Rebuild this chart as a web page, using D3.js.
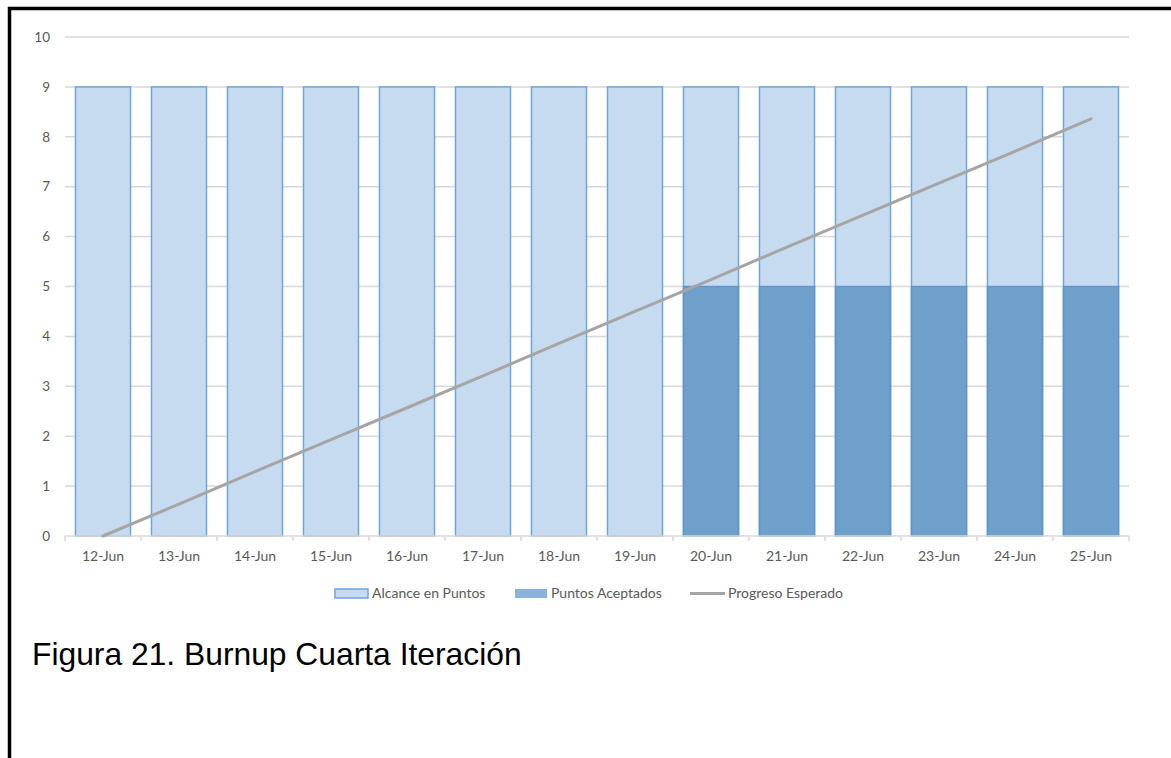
<!DOCTYPE html>
<html>
<head>
<meta charset="utf-8">
<script src="https://cdn.jsdelivr.net/npm/d3@7"></script>
<style>
  html, body { margin: 0; padding: 0; background: #fff; }
  svg { display: block; }
</style>
</head>
<body>
<svg id="chart" width="1171" height="758"></svg>
<script>
// Burnup chart data
const days = ["12-Jun","13-Jun","14-Jun","15-Jun","16-Jun","17-Jun","18-Jun",
              "19-Jun","20-Jun","21-Jun","22-Jun","23-Jun","24-Jun","25-Jun"];
const alcance = [9,9,9,9,9,9,9,9,9,9,9,9,9,9];
const aceptados = [0,0,0,0,0,0,0,0,5,5,5,5,5,5];
const esperado = [0,0.64,1.29,1.93,2.57,3.21,3.86,4.5,5.14,5.79,6.43,7.07,7.71,8.36];
const yTicks = [0,1,2,3,4,5,6,7,8,9,10];
const seriesNames = ["Alcance en Puntos","Puntos Aceptados","Progreso Esperado"];
const caption = "Figura 21. Burnup Cuarta Iteración";

const svg = d3.select("#chart");
const labelFont = "Lato, 'Open Sans', sans-serif";

// frame lines (top and left)
svg.append("line").attr("x1", 8).attr("x2", 1171).attr("y1", 8.5).attr("y2", 8.5)
  .attr("stroke", "#000").attr("stroke-width", 3.5);
svg.append("line").attr("x1", 9.5).attr("x2", 9.5).attr("y1", 7).attr("y2", 758)
  .attr("stroke", "#000").attr("stroke-width", 3.5);

const plotLeft = 65, plotRight = 1129, plotTop = 37, plotBottom = 536;

const x = d3.scaleBand().domain(days).range([plotLeft, plotRight])
  .paddingInner(0.276).paddingOuter(0.138);
const y = d3.scaleLinear().domain([0, 10]).range([plotBottom, plotTop]);

// gridlines
svg.append("g").selectAll("line").data(yTicks.filter(d => d > 0)).join("line")
  .attr("x1", plotLeft).attr("x2", plotRight)
  .attr("y1", d => y(d)).attr("y2", d => y(d))
  .attr("stroke", "#d9d9d9").attr("stroke-width", 1.5);

// y tick labels
svg.append("g").selectAll("text").data(yTicks).join("text")
  .attr("x", 50).attr("y", d => y(d)).attr("dy", "0.35em")
  .attr("text-anchor", "end")
  .attr("font-family", labelFont).attr("font-size", 13.5)
  .attr("fill", "#595959").text(d => d);

// scope bars
svg.append("g").selectAll("rect").data(days).join("rect")
  .attr("x", d => x(d)).attr("width", x.bandwidth())
  .attr("y", (d, i) => y(alcance[i]))
  .attr("height", (d, i) => y(0) - y(alcance[i]))
  .attr("fill", "#c6dbf0").attr("stroke", "#6fa6da").attr("stroke-width", 1.5);

// accepted points bars (overlapping)
svg.append("g").selectAll("rect").data(days.filter((d, i) => aceptados[i] > 0)).join("rect")
  .attr("x", d => x(d)).attr("width", x.bandwidth())
  .attr("y", d => y(aceptados[days.indexOf(d)]))
  .attr("height", d => y(0) - y(aceptados[days.indexOf(d)]))
  .attr("fill", "#6f9fcb").attr("stroke", "#5f95cc").attr("stroke-width", 1.5);

// x axis baseline and tick marks at band boundaries
svg.append("line").attr("x1", plotLeft).attr("x2", plotRight)
  .attr("y1", y(0)).attr("y2", y(0))
  .attr("stroke", "#d9d9d9").attr("stroke-width", 1.5);
const bounds = d3.range(days.length + 1).map(i => plotLeft + i * x.step());
svg.append("g").selectAll("line").data(bounds).join("line")
  .attr("x1", d => d).attr("x2", d => d)
  .attr("y1", y(0)).attr("y2", y(0) + 5)
  .attr("stroke", "#d9d9d9").attr("stroke-width", 1.5);

// x tick labels
svg.append("g").selectAll("text").data(days).join("text")
  .attr("x", d => x(d) + x.bandwidth() / 2).attr("y", 556).attr("dy", "0.35em")
  .attr("text-anchor", "middle")
  .attr("font-family", labelFont).attr("font-size", 14)
  .attr("fill", "#595959").text(d => d);

// expected progress line
const line = d3.line()
  .x((d, i) => x(days[i]) + x.bandwidth() / 2)
  .y(d => y(d));
svg.append("path").datum(esperado).attr("d", line)
  .attr("fill", "none").attr("stroke", "#a5a5a5").attr("stroke-width", 3)
  .attr("stroke-linecap", "round");

// legend
const lg = svg.append("g").attr("font-family", labelFont).attr("font-size", 14).attr("fill", "#595959");
lg.append("rect").attr("x", 335).attr("y", 589).attr("width", 33).attr("height", 9)
  .attr("fill", "#c6dbf0").attr("stroke", "#6fa6da").attr("stroke-width", 1.5);
lg.append("text").attr("x", 372).attr("y", 593.5).attr("dy", "0.35em").text(seriesNames[0]);
lg.append("rect").attr("x", 515).attr("y", 589).attr("width", 32).attr("height", 9)
  .attr("fill", "#8ab3da");
lg.append("text").attr("x", 551).attr("y", 593.5).attr("dy", "0.35em").text(seriesNames[1]);
lg.append("line").attr("x1", 690).attr("x2", 725).attr("y1", 593.5).attr("y2", 593.5)
  .attr("stroke", "#a5a5a5").attr("stroke-width", 3);
lg.append("text").attr("x", 728).attr("y", 593.5).attr("dy", "0.35em").text(seriesNames[2]);

// caption
svg.append("text").attr("x", 32).attr("y", 665)
  .attr("font-family", "'Liberation Sans', Arial, sans-serif").attr("font-size", 31.8)
  .attr("fill", "#000").text(caption);
</script>
</body>
</html>
